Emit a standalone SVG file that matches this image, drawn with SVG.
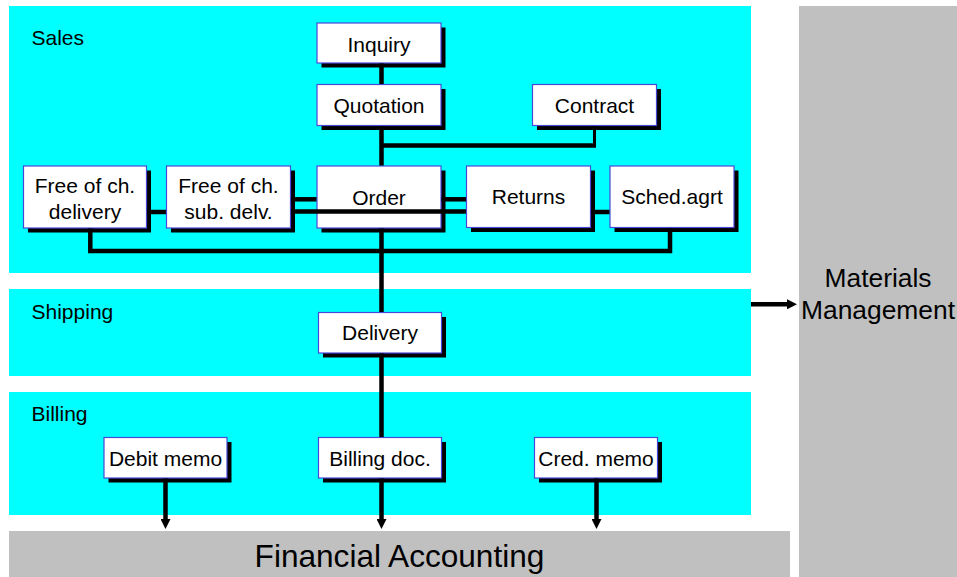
<svg xmlns="http://www.w3.org/2000/svg" width="957" height="577" viewBox="0 0 957 577">
<style>
text{font-family:"Liberation Sans",Arial,sans-serif;fill:#000}
.band{fill:#00ffff}
.gray{fill:#c0c0c0}
.lbl{font-size:21px}
.bx{fill:#fff;stroke:#4848d8;stroke-width:1.2}
.sh{fill:#000}
.t{font-size:21px;text-anchor:middle}
.ln{stroke:#000;stroke-width:4.5;fill:none}
.thin{stroke:#000;stroke-width:3;fill:none}
</style>
<defs>
<marker id="ah" viewBox="0 0 10 10" refX="2" refY="5" markerWidth="10" markerHeight="10" markerUnits="userSpaceOnUse" orient="auto">
<path d="M0,0 L10,5 L0,10 z" fill="#000"/>
</marker>
</defs>
<g id="bands">
<rect class="band" x="9" y="6" width="742" height="267"/>
<rect class="band" x="9" y="289" width="742" height="87"/>
<rect class="band" x="9" y="392" width="742" height="123"/>
<rect class="gray" x="9" y="531" width="781" height="46"/>
<rect class="gray" x="799" y="6" width="158" height="571"/>
<text class="lbl" x="31.5" y="45">Sales</text>
<text class="lbl" x="31.5" y="319">Shipping</text>
<text class="lbl" x="31.5" y="421">Billing</text>
<text x="878" y="287" font-size="26.4" text-anchor="middle">Materials</text>
<text x="878" y="318.5" font-size="26.4" text-anchor="middle">Management</text>
<text x="399.5" y="567" font-size="31.6" text-anchor="middle">Financial Accounting</text>
</g>
<g id="inquiry"><rect class="sh" x="321.5" y="27.5" width="124" height="40"/><rect class="bx" x="317" y="23" width="124" height="40"/><text class="t" x="379" y="51.5">Inquiry</text></g>
<g id="quotation"><rect class="sh" x="321.5" y="89" width="124" height="41"/><rect class="bx" x="317" y="84.5" width="124" height="41"/><text class="t" x="379" y="113">Quotation</text></g>
<g id="contract"><rect class="sh" x="537" y="89" width="124" height="41"/><rect class="bx" x="532.5" y="84.5" width="124" height="41"/><text class="t" x="594.5" y="113">Contract</text></g>
<g id="free-delivery"><rect class="sh" x="28" y="170.5" width="123" height="62"/><rect class="bx" x="23.5" y="166" width="123" height="62"/><text class="t" x="85" y="193.3">Free of ch.</text><text class="t" x="85" y="218.5">delivery</text></g>
<g id="free-sub-delv"><rect class="sh" x="171" y="170.5" width="124" height="62"/><rect class="bx" x="166.5" y="166" width="124" height="62"/><text class="t" x="228.5" y="193.3">Free of ch.</text><text class="t" x="228.5" y="218.5">sub. delv.</text></g>
<g id="order"><rect class="sh" x="321.5" y="170.5" width="124" height="62"/><rect class="bx" x="317" y="166" width="124" height="62"/><text class="t" x="379" y="204.7">Order</text></g>
<g id="returns"><rect class="sh" x="471" y="170.5" width="124" height="61.5"/><rect class="bx" x="466.5" y="166" width="124" height="61.5"/><text class="t" x="528.5" y="204.3">Returns</text></g>
<g id="sched-agrt"><rect class="sh" x="614.5" y="170.5" width="124" height="61.5"/><rect class="bx" x="610" y="166" width="124" height="61.5"/><text class="t" x="672" y="204.3">Sched.agrt</text></g>
<g id="delivery"><rect class="sh" x="323" y="317" width="123" height="40.5"/><rect class="bx" x="318.5" y="312.5" width="123" height="40.5"/><text class="t" x="380" y="340">Delivery</text></g>
<g id="debit-memo"><rect class="sh" x="108.5" y="442" width="123" height="40.5"/><rect class="bx" x="104" y="437.5" width="123" height="40.5"/><text class="t" x="165.5" y="465.5">Debit memo</text></g>
<g id="billing-doc"><rect class="sh" x="323" y="442" width="123" height="40.5"/><rect class="bx" x="318.5" y="437.5" width="123" height="40.5"/><text class="t" x="380" y="465.5">Billing doc.</text></g>
<g id="cred-memo"><rect class="sh" x="539" y="442" width="123" height="40.5"/><rect class="bx" x="534.5" y="437.5" width="123" height="40.5"/><text class="t" x="596" y="465.5">Cred. memo</text></g>
<g id="connectors">
<line class="ln" x1="381.5" y1="63.5" x2="381.5" y2="84"/>
<line class="ln" x1="381.5" y1="126" x2="381.5" y2="165.5"/>
<line class="ln" x1="381.5" y1="145.5" x2="596" y2="145.5"/>
<line class="thin" x1="594.5" y1="126" x2="594.5" y2="147"/>
<line class="ln" x1="147" y1="212" x2="166" y2="212"/>
<line class="ln" x1="291" y1="211.5" x2="466" y2="211.5"/>
<line class="ln" x1="591" y1="212" x2="609.5" y2="212"/>
<line class="ln" x1="291" y1="199.3" x2="316.5" y2="199.3"/>
<line class="ln" x1="441.5" y1="199.3" x2="466" y2="199.3"/>
<path class="ln" d="M90.3,228.5 V251 H670 V228"/>
<line class="ln" x1="381.5" y1="228.5" x2="381.5" y2="312"/>
<line class="ln" x1="381.5" y1="353.5" x2="381.5" y2="437"/>
<line class="ln" x1="381.5" y1="478.5" x2="381.5" y2="521" marker-end="url(#ah)"/>
<line class="ln" x1="165.5" y1="478.5" x2="165.5" y2="521" marker-end="url(#ah)"/>
<line class="ln" x1="596.5" y1="478.5" x2="596.5" y2="521" marker-end="url(#ah)"/>
<line class="ln" x1="751" y1="304.3" x2="789" y2="304.3" marker-end="url(#ah)"/>
</g>
</svg>
